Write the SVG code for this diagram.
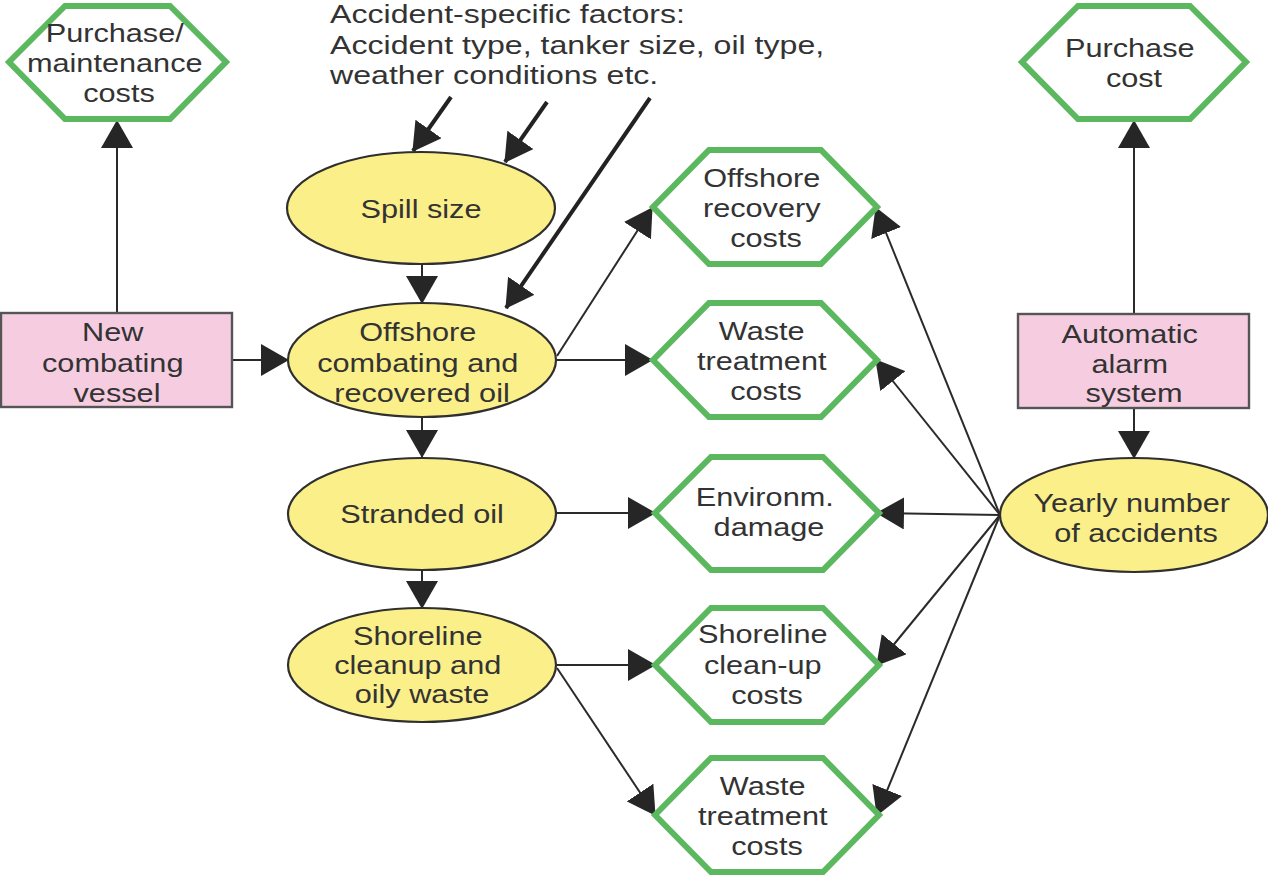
<svg xmlns="http://www.w3.org/2000/svg" width="1268" height="880" viewBox="0 0 1268 880">
  <style>
    .bg { fill: #ffffff; }
    .hex { fill: #ffffff; stroke: #5cb85f; stroke-width: 6; stroke-linejoin: miter; }
    .ell { fill: #fbef8a; stroke: #2f2f2f; stroke-width: 2.2; }
    .box { fill: #f6cde0; stroke: #555555; stroke-width: 2.4; }
    .t { font-family: "Liberation Sans", Arial, Helvetica, sans-serif; font-size: 26px; fill: #333333; text-anchor: middle; }
    .ts { text-anchor: start; }
    .c { fill: none; stroke: #2a2a2a; stroke-width: 2; }
    .ck { fill: none; stroke: #222222; stroke-width: 4; }
  </style>
  <defs>
    <marker id="ah" viewBox="0 0 28 32" markerWidth="28" markerHeight="32" refX="27" refY="16" orient="auto" markerUnits="userSpaceOnUse">
      <path d="M0,0 L28,16 L0,32 Z" fill="#262626"/>
    </marker>
  </defs>
  <rect class="bg" x="0" y="0" width="1268" height="880"/>

  <!-- connectors -->
  <g id="connectors">
    <path class="c" d="M117,313 L117,121" marker-end="url(#ah)"/>
    <path class="c" d="M1134,314 L1134,121" marker-end="url(#ah)"/>
    <path class="c" d="M232,360 L288,360" marker-end="url(#ah)"/>
    <path class="c" d="M1134,408 L1134,458" marker-end="url(#ah)"/>
    <path class="c" d="M422,265 L422,303" marker-end="url(#ah)"/>
    <path class="c" d="M422,417 L422,457" marker-end="url(#ah)"/>
    <path class="c" d="M422,570 L422,608" marker-end="url(#ah)"/>
    <path class="ck" d="M451,97 L413,151" marker-end="url(#ah)"/>
    <path class="ck" d="M547,102 L505,162" marker-end="url(#ah)"/>
    <path class="ck" d="M650,98 L506,308" marker-end="url(#ah)"/>
    <path class="c" d="M557,356 L652,208" marker-end="url(#ah)"/>
    <path class="c" d="M557,360 L652,360" marker-end="url(#ah)"/>
    <path class="c" d="M557,513 L655,513" marker-end="url(#ah)"/>
    <path class="c" d="M557,665 L655,665" marker-end="url(#ah)"/>
    <path class="c" d="M557,668 L655,815" marker-end="url(#ah)"/>
    <path class="c" d="M1000,515 L876,208" marker-end="url(#ah)"/>
    <path class="c" d="M1000,515 L876,360" marker-end="url(#ah)"/>
    <path class="c" d="M1000,515 L877,513" marker-end="url(#ah)"/>
    <path class="c" d="M1000,515 L877,665" marker-end="url(#ah)"/>
    <path class="c" d="M1000,515 L877,815" marker-end="url(#ah)"/>
  </g>

  <!-- factor note -->
  <g id="factors">
    <text class="t ts" transform="matrix(1.235 0 0 1 330 0)">
      <tspan x="0" y="23">Accident-specific factors:</tspan>
      <tspan x="0" y="54">Accident type, tanker size, oil type,</tspan>
      <tspan x="0" y="84">weather conditions etc.</tspan>
    </text>
  </g>

  <!-- cost hexagons -->
  <g id="purchase-maintenance">
    <polygon class="hex" points="9,62 65,6 170,6 226,62 170,119 65,119"/>
    <text class="t" transform="matrix(1.18 0 0 1 119 0)">
      <tspan x="0" y="42">Purchase/</tspan>
      <tspan x="0" y="72">maintenance</tspan>
      <tspan x="0" y="102">costs</tspan>
    </text>
  </g>
  <g id="purchase-cost">
    <polygon class="hex" points="1022,62 1078,6 1190,6 1246,62 1190,119 1078,119"/>
    <text class="t" transform="matrix(1.18 0 0 1 1134 0)">
      <tspan x="0" y="57">Purchase</tspan>
      <tspan x="0" y="87">cost</tspan>
    </text>
  </g>
  <g id="offshore-recovery-costs">
    <polygon class="hex" points="653,207 709,150 821,150 877,207 821,264 709,264"/>
    <text class="t" transform="matrix(1.18 0 0 1 766 0)">
      <tspan x="0" y="187">Offshore</tspan>
      <tspan x="0" y="217">recovery</tspan>
      <tspan x="0" y="247">costs</tspan>
    </text>
  </g>
  <g id="waste-treatment-costs-1">
    <polygon class="hex" points="653,360 709,303 821,303 877,360 821,417 709,417"/>
    <text class="t" transform="matrix(1.18 0 0 1 766 0)">
      <tspan x="0" y="340">Waste</tspan>
      <tspan x="0" y="370">treatment</tspan>
      <tspan x="0" y="400">costs</tspan>
    </text>
  </g>
  <g id="environmental-damage">
    <polygon class="hex" points="655,513 711,457 823,457 879,513 823,570 711,570"/>
    <text class="t" transform="matrix(1.18 0 0 1 769 0)">
      <tspan x="0" y="506">Environm.</tspan>
      <tspan x="0" y="536">damage</tspan>
    </text>
  </g>
  <g id="shoreline-cleanup-costs">
    <polygon class="hex" points="655,665 711,608 823,608 879,665 823,722 711,722"/>
    <text class="t" transform="matrix(1.18 0 0 1 767 0)">
      <tspan x="0" y="643">Shoreline</tspan>
      <tspan x="0" y="674">clean-up</tspan>
      <tspan x="0" y="704">costs</tspan>
    </text>
  </g>
  <g id="waste-treatment-costs-2">
    <polygon class="hex" points="655,815 711,758 823,758 879,815 823,872 711,872"/>
    <text class="t" transform="matrix(1.18 0 0 1 767 0)">
      <tspan x="0" y="795">Waste</tspan>
      <tspan x="0" y="825">treatment</tspan>
      <tspan x="0" y="855">costs</tspan>
    </text>
  </g>

  <!-- decision boxes -->
  <g id="new-combating-vessel">
    <rect class="box" x="1" y="313" width="231" height="94"/>
    <text class="t" transform="matrix(1.18 0 0 1 117 0)">
      <tspan x="0" y="341">New</tspan>
      <tspan x="0" y="372">combating</tspan>
      <tspan x="0" y="402">vessel</tspan>
    </text>
  </g>
  <g id="automatic-alarm-system">
    <rect class="box" x="1018" y="314" width="231" height="94"/>
    <text class="t" transform="matrix(1.18 0 0 1 1134 0)">
      <tspan x="0" y="343">Automatic</tspan>
      <tspan x="0" y="373">alarm</tspan>
      <tspan x="0" y="402">system</tspan>
    </text>
  </g>

  <!-- chance nodes -->
  <g id="spill-size">
    <ellipse class="ell" cx="421" cy="208" rx="134" ry="56"/>
    <text class="t" transform="matrix(1.18 0 0 1 421 0)"><tspan x="0" y="218">Spill size</tspan></text>
  </g>
  <g id="offshore-combating">
    <ellipse class="ell" cx="422" cy="360" rx="134" ry="57"/>
    <text class="t" transform="matrix(1.18 0 0 1 422 0)">
      <tspan x="0" y="341">Offshore</tspan>
      <tspan x="0" y="372">combating and</tspan>
      <tspan x="0" y="402">recovered oil</tspan>
    </text>
  </g>
  <g id="stranded-oil">
    <ellipse class="ell" cx="422" cy="514" rx="134" ry="56"/>
    <text class="t" transform="matrix(1.18 0 0 1 422 0)"><tspan x="0" y="523">Stranded oil</tspan></text>
  </g>
  <g id="shoreline-cleanup">
    <ellipse class="ell" cx="422" cy="665" rx="134" ry="57"/>
    <text class="t" transform="matrix(1.18 0 0 1 422 0)">
      <tspan x="0" y="645">Shoreline</tspan>
      <tspan x="0" y="674">cleanup and</tspan>
      <tspan x="0" y="703">oily waste</tspan>
    </text>
  </g>
  <g id="yearly-accidents">
    <ellipse class="ell" cx="1134" cy="515" rx="134" ry="57"/>
    <text class="t" transform="matrix(1.18 0 0 1 1136 0)">
      <tspan x="0" y="512">Yearly number</tspan>
      <tspan x="0" y="542">of accidents</tspan>
    </text>
  </g>
</svg>
